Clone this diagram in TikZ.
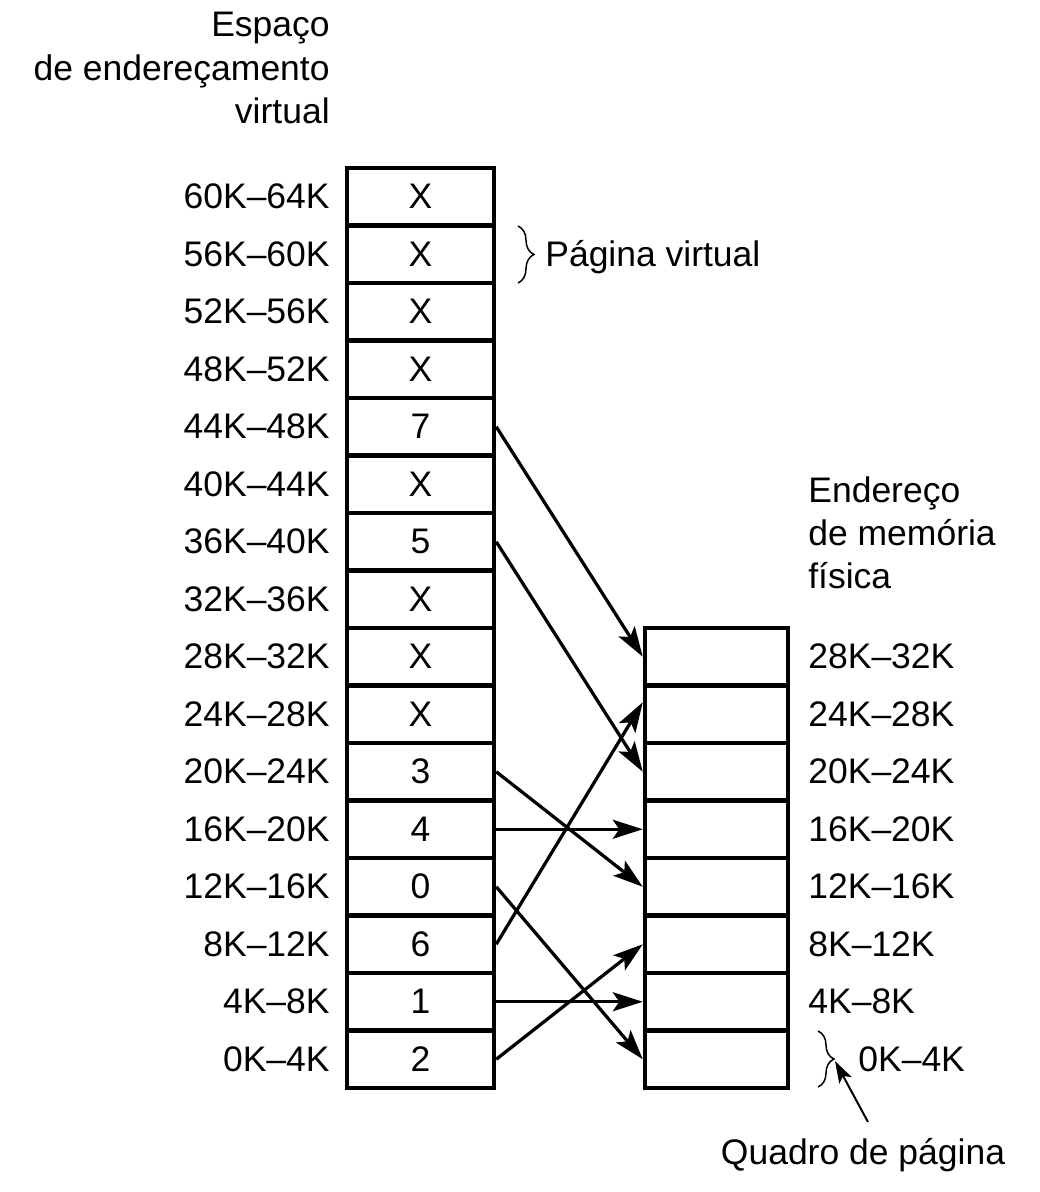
\documentclass[tikz,border=0pt]{standalone}
\usepackage{fontspec}
\setmainfont{Liberation Sans}
\usetikzlibrary{arrows.meta,decorations.pathreplacing}

\begin{document}
\begin{tikzpicture}[x=0.02cm,y=-0.02cm,
	font=\fontsize{20.2pt}{24.5pt}\selectfont,
	cell/.style={draw,line width=0.09cm,minimum width=2.94cm,minimum height=1.15cm,inner sep=0pt},
	frame/.style={cell,minimum width=2.86cm},
	lab/.style={inner sep=0pt},
	map/.style={line width=0.065cm,-{Stealth[length=0.6cm,width=0.38cm,inset=0.13cm]}},
	brc/.style={line width=0.03cm,decorate,decoration={brace,amplitude=0.32cm}}]
	\useasboundingbox (0,0) rectangle (1040,1192);

	% virtual address space
	\node[lab,align=right,anchor=east] (vtitle) at (330,68) {Espaço\\de endereçamento\\virtual};
	\node[cell] (v60) at (420.5,196.75) {X};
	\node[cell] (v56) at (420.5,254.25) {X};
	\node[cell] (v52) at (420.5,311.75) {X};
	\node[cell] (v48) at (420.5,369.25) {X};
	\node[cell] (v44) at (420.5,426.75) {7};
	\node[cell] (v40) at (420.5,484.25) {X};
	\node[cell] (v36) at (420.5,541.75) {5};
	\node[cell] (v32) at (420.5,599.25) {X};
	\node[cell] (v28) at (420.5,656.75) {X};
	\node[cell] (v24) at (420.5,714.25) {X};
	\node[cell] (v20) at (420.5,771.75) {3};
	\node[cell] (v16) at (420.5,829.25) {4};
	\node[cell] (v12) at (420.5,886.75) {0};
	\node[cell] (v8) at (420.5,944.25) {6};
	\node[cell] (v4) at (420.5,1001.75) {1};
	\node[cell] (v0) at (420.5,1059.25) {2};

	\node[lab,anchor=east] (lv60) at (330,196.75) {60K--64K};
	\node[lab,anchor=east] (lv56) at (330,254.25) {56K--60K};
	\node[lab,anchor=east] (lv52) at (330,311.75) {52K--56K};
	\node[lab,anchor=east] (lv48) at (330,369.25) {48K--52K};
	\node[lab,anchor=east] (lv44) at (330,426.75) {44K--48K};
	\node[lab,anchor=east] (lv40) at (330,484.25) {40K--44K};
	\node[lab,anchor=east] (lv36) at (330,541.75) {36K--40K};
	\node[lab,anchor=east] (lv32) at (330,599.25) {32K--36K};
	\node[lab,anchor=east] (lv28) at (330,656.75) {28K--32K};
	\node[lab,anchor=east] (lv24) at (330,714.25) {24K--28K};
	\node[lab,anchor=east] (lv20) at (330,771.75) {20K--24K};
	\node[lab,anchor=east] (lv16) at (330,829.25) {16K--20K};
	\node[lab,anchor=east] (lv12) at (330,886.75) {12K--16K};
	\node[lab,anchor=east] (lv8) at (330,944.25) {8K--12K};
	\node[lab,anchor=east] (lv4) at (330,1001.75) {4K--8K};
	\node[lab,anchor=east] (lv0) at (330,1059.25) {0K--4K};

	\draw[brc] (518,226) -- (518,283);
	\node[lab,anchor=west] (vpage) at (545,257) {Página virtual};

	% physical memory
	\node[lab,align=left,anchor=west] (ptitle) at (808,533) {Endereço\\de memória\\física};
	\node[frame] (p28) at (716.5,656.75) {};
	\node[frame] (p24) at (716.5,714.25) {};
	\node[frame] (p20) at (716.5,771.75) {};
	\node[frame] (p16) at (716.5,829.25) {};
	\node[frame] (p12) at (716.5,886.75) {};
	\node[frame] (p8) at (716.5,944.25) {};
	\node[frame] (p4) at (716.5,1001.75) {};
	\node[frame] (p0) at (716.5,1059.25) {};

	\node[lab,anchor=west] (lp28) at (808,656.75) {28K--32K};
	\node[lab,anchor=west] (lp24) at (808,714.25) {24K--28K};
	\node[lab,anchor=west] (lp20) at (808,771.75) {20K--24K};
	\node[lab,anchor=west] (lp16) at (808,829.25) {16K--20K};
	\node[lab,anchor=west] (lp12) at (808,886.75) {12K--16K};
	\node[lab,anchor=west] (lp8) at (808,944.25) {8K--12K};
	\node[lab,anchor=west] (lp4) at (808,1001.75) {4K--8K};
	\node[lab,anchor=west] (lp0) at (858,1059.25) {0K--4K};

	\draw[brc] (818,1031) -- (818,1087);
	\coordinate (qtip) at (835,1061);
	\coordinate (qtail) at (868,1122);
	\node[lab] (quadro) at (863,1155) {Quadro de página};
	\draw[line width=0.04cm,-{Stealth[length=0.44cm,width=0.28cm,inset=0.1cm]}] (qtail) -- (qtip);

	% mapping
	\draw[map] (v44.east) -- (p28.west);
	\draw[map] (v36.east) -- (p20.west);
	\draw[map] (v20.east) -- (p12.west);
	\draw[map] (v16.east) -- (p16.west);
	\draw[map] (v12.east) -- (p0.west);
	\draw[map] (v8.east) -- ([yshift=0.24cm]p24.west);
	\draw[map] (v4.east) -- (p4.west);
	\draw[map] (v0.east) -- (p8.west);
\end{tikzpicture}
\end{document}
